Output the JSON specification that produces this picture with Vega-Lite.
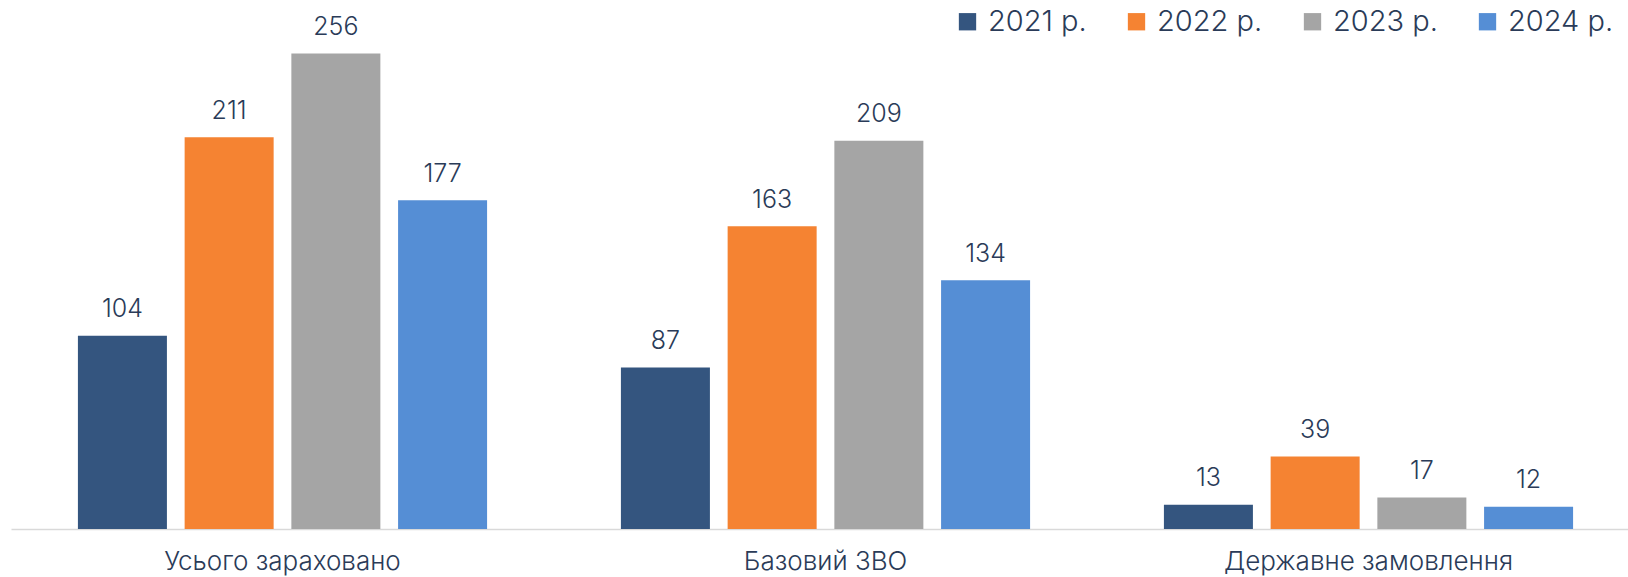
{
  "$schema": "https://vega.github.io/schema/vega-lite/v6.json",
  "width": 1617,
  "height": 520,
  "autosize": {"type": "none"},
  "padding": {"left": 11, "top": 9, "right": 0, "bottom": 48},
  "background": "white",
  "config": {
    "view": {"stroke": null},
    "font": "Inter",
    "text": {"font": "Inter"}
  },
  "data": {
    "values": [
      {"category": "Усього зараховано", "year": "2021 р.", "value": 104},
      {"category": "Усього зараховано", "year": "2022 р.", "value": 211},
      {"category": "Усього зараховано", "year": "2023 р.", "value": 256},
      {"category": "Усього зараховано", "year": "2024 р.", "value": 177},
      {"category": "Базовий ЗВО", "year": "2021 р.", "value": 87},
      {"category": "Базовий ЗВО", "year": "2022 р.", "value": 163},
      {"category": "Базовий ЗВО", "year": "2023 р.", "value": 209},
      {"category": "Базовий ЗВО", "year": "2024 р.", "value": 134},
      {"category": "Державне замовлення", "year": "2021 р.", "value": 13},
      {"category": "Державне замовлення", "year": "2022 р.", "value": 39},
      {"category": "Державне замовлення", "year": "2023 р.", "value": 17},
      {"category": "Державне замовлення", "year": "2024 р.", "value": 12}
    ]
  },
  "encoding": {
    "x": {
      "field": "category",
      "type": "nominal",
      "sort": ["Усього зараховано", "Базовий ЗВО", "Державне замовлення"],
      "scale": {"range": [0, 1629], "paddingInner": 0, "paddingOuter": 0},
      "axis": {
        "title": null,
        "labelAngle": 0,
        "ticks": false,
        "tickSize": 0,
        "labelPadding": 40,
        "labelBaseline": "alphabetic",
        "labelFont": "Inter",
        "labelFontSize": 26,
        "labelFontWeight": 300,
        "labelLimit": 600,
        "labelColor": "#2A3B58",
        "domainColor": "#D9D9D9",
        "domainWidth": 1.5,
        "grid": false
      }
    },
    "xOffset": {
      "field": "year",
      "type": "nominal",
      "sort": ["2021 р.", "2022 р.", "2023 р.", "2024 р."],
      "scale": {"paddingInner": 0.166, "paddingOuter": 0.627}
    },
    "y": {
      "field": "value",
      "type": "quantitative",
      "scale": {"domain": [0, 280], "nice": false},
      "axis": null
    }
  },
  "layer": [
    {
      "mark": {"type": "bar"},
      "encoding": {
        "color": {
          "field": "year",
          "type": "nominal",
          "sort": ["2021 р.", "2022 р.", "2023 р.", "2024 р."],
          "scale": {
            "domain": ["2021 р.", "2022 р.", "2023 р.", "2024 р."],
            "range": ["#34557F", "#F58332", "#A5A5A5", "#558ED5"]
          },
          "legend": {
            "title": null,
            "orient": "none",
            "direction": "horizontal",
            "legendX": 942,
            "legendY": -2,
            "padding": 0,
            "symbolType": "square",
            "symbolSize": 300,
            "symbolStrokeWidth": 0,
            "labelFont": "Inter",
            "labelFontSize": 29,
            "labelFontWeight": 300,
            "labelColor": "#2A3B58",
            "labelOffset": 6,
            "columnPadding": 35,
            "labelLimit": 300
          }
        }
      }
    },
    {
      "mark": {
        "type": "text",
        "baseline": "alphabetic",
        "dy": -18.5,
        "font": "Inter",
        "fontSize": 25,
        "fontWeight": 300,
        "color": "#2A3B58"
      },
      "encoding": {
        "text": {"field": "value", "type": "quantitative"}
      }
    }
  ]
}
